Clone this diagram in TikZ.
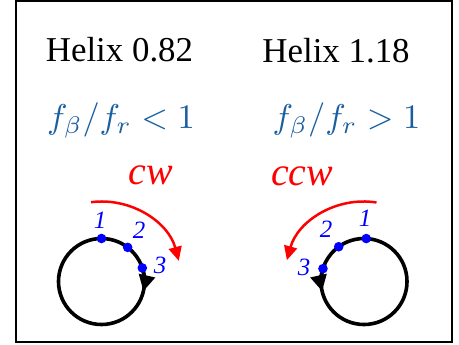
\documentclass[tikz,border=0pt]{standalone}
\usepackage{fontspec}
\usepackage{graphicx}
\setmainfont{Liberation Serif}
\usetikzlibrary{arrows.meta}
\definecolor{formblue}{RGB}{25,95,160}
\definecolor{dotblue}{RGB}{0,0,255}
\definecolor{arcred}{RGB}{255,0,0}
\newcommand{\bigmath}[1]{\scalebox{3.45}{\fontsize{10}{12}\selectfont$#1$}}
\tikzset{
  title/.style={anchor=base, inner sep=0pt, font=\fontsize{35}{40}\selectfont},
  formula/.style={anchor=base, inner sep=0pt, text=formblue},
  dirlabel/.style={inner sep=0pt, text=arcred, font=\fontsize{40}{44}\selectfont\itshape},
  numlabel/.style={inner sep=0pt, text=dotblue, font=\fontsize{25}{28}\selectfont\itshape},
  ring/.style={line width=3.6bp, black},
  ringarrow/.style={line width=3.6bp, black, -{Triangle[length=16bp,width=16bp]}},
  redarc/.style={line width=2.5bp, arcred, -{Triangle[length=14bp,width=13bp]}},
  bluedot/.style={fill=dotblue, draw=none},
}
\begin{document}
\begin{tikzpicture}[x=1bp,y=1bp]
\useasboundingbox (0,0) rectangle (459,344);
\draw[line width=1.5bp] (16,2) rectangle (452,343);
% titles
\node[title] (h1) at (119.5,283) {Helix 0.82};
\node[title] (h2) at (336,282) {Helix 1.18};
% formulas
\node[formula] (f1) at (121,216) {\bigmath{f_\beta/f_r<1}};
\node[formula] (f2) at (346.5,216) {\bigmath{f_\beta/f_r>1}};
% direction labels
\node[dirlabel] (cw) at (151,169) {cw};
\node[dirlabel] (ccw) at (302,168) {ccw};
% left circle
\coordinate (cL) at (101.5,62.5);
\draw[ring] (cL) circle[radius=43];
\draw[ringarrow] ([shift={(15:43)}]cL) arc[start angle=15, end angle=-13, radius=43];
\draw[redarc] ([shift={(97.5:80)}]cL) arc[start angle=97.5, end angle=15, radius=80];
\fill[bluedot] ([shift={(90:43)}]cL) circle[radius=4.8];
\fill[bluedot] ([shift={(52.5:43)}]cL) circle[radius=4.8];
\fill[bluedot] ([shift={(18.4:43)}]cL) circle[radius=4.8];
\node[numlabel] (l1) at (100,124) {1};
\node[numlabel] (l2) at (139,114) {2};
\node[numlabel] (l3) at (160,79) {3};
% right circle
\coordinate (cR) at (364,62.5);
\draw[ring] (cR) circle[radius=43];
\draw[ringarrow] ([shift={(165:43)}]cR) arc[start angle=165, end angle=193, radius=43];
\draw[redarc] ([shift={(81:80)}]cR) arc[start angle=81, end angle=164.5, radius=80];
\fill[bluedot] ([shift={(87:43)}]cR) circle[radius=4.8];
\fill[bluedot] ([shift={(126:43)}]cR) circle[radius=4.8];
\fill[bluedot] ([shift={(162.6:43)}]cR) circle[radius=4.8];
\node[numlabel] (r1) at (365,126) {1};
\node[numlabel] (r2) at (326,115) {2};
\node[numlabel] (r3) at (304,77) {3};
\end{tikzpicture}
\end{document}
